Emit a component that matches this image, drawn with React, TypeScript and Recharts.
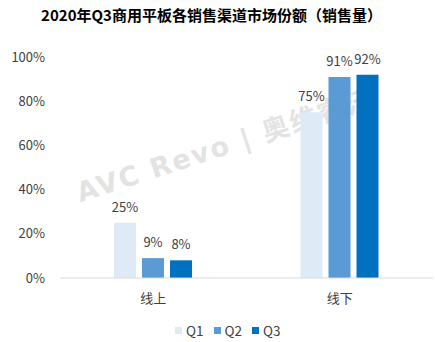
import React from "react";
import { BarChart, Bar, XAxis, YAxis, LabelList } from "recharts";

const categories = ["线上", "线下"];
const q1Values = [25, 75];
const q2Values = [9, 91];
const q3Values = [8, 92];
const yTicks = [0, 20, 40, 60, 80, 100];
const seriesNames = ["Q1", "Q2", "Q3"];
const seriesColors = ["#DEEBF7", "#5B9BD5", "#0070C0"];
const title = "2020年Q3商用平板各销售渠道市场份额（销售量）";
const watermark = "AVC Revo | 奥维睿沃";

const data = categories.map((name, i) => ({
  name,
  Q1: q1Values[i],
  Q2: q2Values[i],
  Q3: q3Values[i],
}));

const FONT = '"Noto Sans CJK SC", "Noto Sans", sans-serif';

export default function App() {
  return (
    <div
      style={{
        position: "absolute",
        left: 0,
        top: 0,
        width: 435,
        height: 342,
        background: "#fff",
        fontFamily: FONT,
        overflow: "hidden",
      }}
    >
      <div
        style={{
          position: "absolute",
          left: 82,
          top: 178,
          fontSize: 27,
          fontWeight: 700,
          color: "#e3e3e3",
          letterSpacing: 2,
          whiteSpace: "nowrap",
          transform: "rotate(-18deg)",
          transformOrigin: "0 100%",
          lineHeight: "30px",
          fontFamily: '"DejaVu Sans", "Noto Sans CJK SC", sans-serif',
        }}
      >
        {watermark}
      </div>
      <div
        style={{
          position: "absolute",
          left: 0,
          top: 5,
          width: 423,
          textAlign: "center",
          fontSize: 15,
          fontWeight: 700,
          lineHeight: "20px",
          color: "#000",
        }}
      >
        {title}
      </div>
      <div style={{ position: "absolute", left: 0, top: 0 }}>
        <BarChart
          width={435}
          height={342}
          data={data}
          margin={{ top: 57, right: 2, left: 0, bottom: 34 }}
          barSize={22}
          barGap={6}
        >
          <XAxis
            dataKey="name"
            axisLine={{ stroke: "#d9d9d9" }}
            tickLine={false}
            tickSize={0}
            tickMargin={16}
            height={30}
            tick={{ fontSize: 13, fill: "#404040" }}
          />
          <YAxis
            domain={[0, 100]}
            ticks={yTicks}
            tickFormatter={(v: number) => `${v}%`}
            axisLine={false}
            tickLine={false}
            tickSize={0}
            tickMargin={15}
            width={60}
            tick={{ fontSize: 13, fill: "#404040" }}
          />
          {seriesNames.map((s, i) => (
            <Bar key={s} dataKey={s} fill={seriesColors[i]} isAnimationActive={false}>
              <LabelList
                dataKey={s}
                position="top"
                offset={11}
                formatter={(v: number) => `${v}%`}
                style={{ fontSize: 13, fill: "#404040" }}
              />
            </Bar>
          ))}
        </BarChart>
      </div>
      <div
        style={{
          position: "absolute",
          left: 175,
          top: 321,
          height: 18,
          display: "flex",
          alignItems: "center",
          fontSize: 13.5,
          color: "#404040",
        }}
      >
        {seriesNames.map((s, i) => (
          <div key={s} style={{ display: "flex", alignItems: "center", marginRight: 10 }}>
            <div style={{ width: 7, height: 7, background: seriesColors[i], marginRight: 4 }} />
            <span>{s}</span>
          </div>
        ))}
      </div>
    </div>
  );
}
